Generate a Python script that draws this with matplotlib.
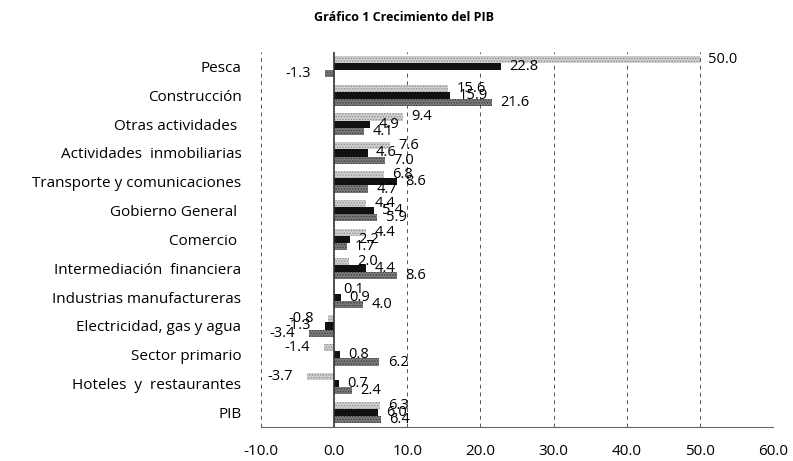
"""
Gráfico 1 Crecimiento del PIB - horizontal grouped bars.
"""
import numpy as np
import matplotlib
matplotlib.use("Agg")
import matplotlib.pyplot as plt

plt.rcParams["font.family"] = ["Open Sans", "DejaVu Sans"]
plt.rcParams["hatch.linewidth"] = 0.6

# Data (top to bottom)
categories = [
    "Pesca", "Construcción", "Otras actividades ", "Actividades  inmobiliarias",
    "Transporte y comunicaciones", "Gobierno General ", "Comercio ",
    "Intermediación  financiera", "Industrias manufactureras",
    "Electricidad, gas y agua", "Sector primario", "Hoteles  y  restaurantes", "PIB",
]
serie_a = [50.0, 15.6, 9.4, 7.6, 6.8, 4.4, 4.4, 2.0, 0.1, -0.8, -1.4, -3.7, 6.3]
serie_b = [22.8, 15.9, 4.9, 4.6, 8.6, 5.4, 2.2, 4.4, 0.9, -1.3, 0.8, 0.7, 6.0]
serie_c = [-1.3, 21.6, 4.1, 7.0, 4.7, 5.9, 1.7, 8.6, 4.0, -3.4, 6.2, 2.4, 6.4]
x_ticks = [-10, 0, 10, 20, 30, 40, 50, 60]

fig = plt.figure(figsize=(7.93, 4.61), dpi=100)
ax = fig.add_axes([0.329, 0.074, 0.646, 0.813])

y = np.arange(len(categories))
h = 0.25
styles = [
    (serie_a, -h, "#cfcfcf", "#8c8c8c"),
    (serie_b, 0.0, "#111111", "#111111"),
    (serie_c, h, "#7a7a7a", "#3a3a3a"),
]
for vals, off, fc, hc in styles:
    ax.barh(y + off, vals, height=h, color=fc, edgecolor=hc, linewidth=0,
            hatch="......", zorder=3)
    for yi, v in zip(y, vals):
        if v >= 0:
            ax.annotate(f"{v:.1f}", (v, yi + off), xytext=(6, 0), textcoords="offset points",
                        ha="left", va="center", fontsize=10.5, zorder=4)
        else:
            ax.annotate(f"{v:.1f}", (v, yi + off), xytext=(-10, 0), textcoords="offset points",
                        ha="right", va="center", fontsize=10.5, zorder=4)

ax.set_xlim(-10, 60)
ax.set_ylim(len(categories) - 0.5, -0.5)
ax.set_xticks(x_ticks)
ax.set_xticklabels([f"{t:.1f}" for t in x_ticks], fontsize=11)
ax.set_yticks(y)
ax.set_yticklabels(categories, fontsize=11)
ax.tick_params(length=0, pad=12)
ax.tick_params(axis="y", pad=14)

for t in x_ticks:
    if t != 0:
        ax.axvline(t, color="#555555", lw=0.7, ls=(0, (4, 4)), zorder=1)
ax.axvline(0, color="#333333", lw=1.2, zorder=5)

for s in ["top", "right", "left"]:
    ax.spines[s].set_visible(False)
ax.spines["bottom"].set_color("#666666")
ax.spines["bottom"].set_linestyle((0, (1, 1)))
ax.spines["bottom"].set_linewidth(0.8)

fig.text(0.51, 0.963, "Gráfico 1 Crecimiento del PIB", ha="center", va="center",
         fontsize=9, fontweight="bold")

fig.savefig("out.png", dpi=100)
